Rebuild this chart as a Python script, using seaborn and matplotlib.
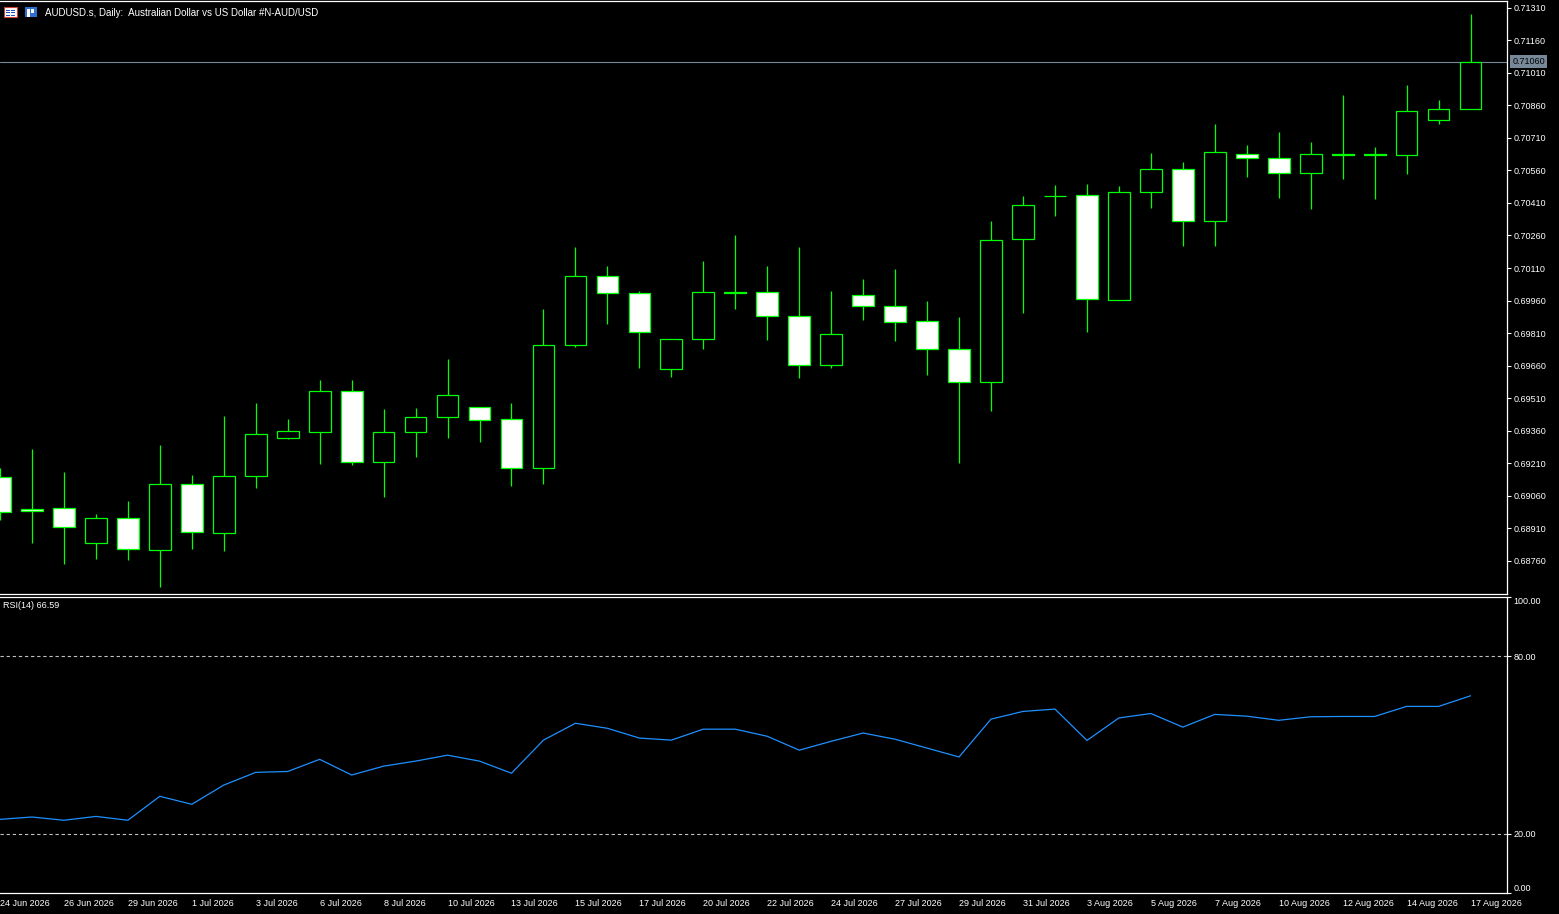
import numpy as np
import pandas as pd
import matplotlib
matplotlib.use("Agg")
import matplotlib.pyplot as plt
import matplotlib.transforms as mtransforms
from matplotlib.patches import Rectangle
import seaborn as sns

# daily AUDUSD candles, 24 Jun 2026 .. 17 Aug 2026
opens = [0.69148, 0.68998, 0.69002, 0.68841, 0.68956, 0.68809, 0.69113, 0.68887,
         0.69150, 0.69325, 0.69353, 0.69542, 0.69214, 0.69353, 0.69422, 0.69468,
         0.69413, 0.69187, 0.69754, 0.70072, 0.69993, 0.69643, 0.69781, 0.69997,
         0.69998, 0.69887, 0.69662, 0.69984, 0.69934, 0.69864, 0.69735, 0.69583,
         0.70242, 0.70442, 0.70445, 0.69961, 0.70459, 0.70565, 0.70325, 0.70634,
         0.70616, 0.70547, 0.70632, 0.70632, 0.70630, 0.70791, 0.70842]
highs = [0.69188, 0.69276, 0.69170, 0.68976, 0.69036, 0.69294, 0.69156, 0.69428,
         0.69488, 0.69414, 0.69594, 0.69594, 0.69460, 0.69465, 0.69691, 0.69468,
         0.69488, 0.69921, 0.70207, 0.70119, 0.70003, 0.69781, 0.70142, 0.70262,
         0.70119, 0.70207, 0.70004, 0.70059, 0.70105, 0.69958, 0.69884, 0.70327,
         0.70442, 0.70493, 0.70497, 0.70488, 0.70640, 0.70599, 0.70774, 0.70677,
         0.70737, 0.70691, 0.70908, 0.70668, 0.70954, 0.70885, 0.71281]
lows = [0.68948, 0.68844, 0.68747, 0.68770, 0.68765, 0.68641, 0.68816, 0.68807,
        0.69097, 0.69320, 0.69208, 0.69203, 0.69056, 0.69240, 0.69328, 0.69309,
        0.69106, 0.69116, 0.69747, 0.69853, 0.69650, 0.69609, 0.69738, 0.69922,
        0.69779, 0.69604, 0.69650, 0.69872, 0.69775, 0.69618, 0.69212, 0.69452,
        0.69904, 0.70351, 0.69816, 0.69961, 0.70388, 0.70213, 0.70213, 0.70531,
        0.70434, 0.70383, 0.70522, 0.70430, 0.70545, 0.70775, 0.70842]
closes = [0.68984, 0.68988, 0.68915, 0.68956, 0.68813, 0.69113, 0.68892, 0.69150,
          0.69343, 0.69357, 0.69542, 0.69214, 0.69353, 0.69422, 0.69523, 0.69408,
          0.69187, 0.69754, 0.70072, 0.69993, 0.69814, 0.69781, 0.69998, 0.69997,
          0.69887, 0.69662, 0.69804, 0.69934, 0.69860, 0.69735, 0.69583, 0.70238,
          0.70399, 0.70442, 0.69966, 0.70459, 0.70565, 0.70325, 0.70643, 0.70616,
          0.70547, 0.70634, 0.70632, 0.70632, 0.70832, 0.70842, 0.71060]

rsi = [24.8, 25.6, 24.5, 25.8, 24.5, 32.6, 29.9, 36.4, 40.7, 41.0, 45.1, 39.8,
       42.8, 44.5, 46.5, 44.5, 40.4, 51.6, 57.3, 55.6, 52.3, 51.6, 55.3, 55.3,
       52.9, 48.2, 51.2, 54.0, 51.9, 48.9, 45.9, 58.7, 61.3, 62.1, 51.5, 59.1,
       60.6, 56.0, 60.3, 59.7, 58.3, 59.5, 59.6, 59.6, 63.0, 63.0, 66.59]

date_labels = ["24 Jun 2026", "26 Jun 2026", "29 Jun 2026", "1 Jul 2026", "3 Jul 2026",
               "6 Jul 2026", "8 Jul 2026", "10 Jul 2026", "13 Jul 2026", "15 Jul 2026",
               "17 Jul 2026", "20 Jul 2026", "22 Jul 2026", "24 Jul 2026", "27 Jul 2026",
               "29 Jul 2026", "31 Jul 2026", "3 Aug 2026", "5 Aug 2026", "7 Aug 2026",
               "10 Aug 2026", "12 Aug 2026", "14 Aug 2026", "17 Aug 2026"]

price_ticks = [0.68760, 0.68910, 0.69060, 0.69210, 0.69360, 0.69510, 0.69660, 0.69810,
               0.69960, 0.70110, 0.70260, 0.70410, 0.70560, 0.70710, 0.70860, 0.71010,
               0.71160, 0.71310]
rsi_levels = [0, 20, 80, 100]
bid = 0.71060

GREEN = "#00FF00"
W, H = 1559, 914

df = pd.DataFrame({"open": opens, "high": highs, "low": lows, "close": closes, "rsi": rsi})
df["idx"] = np.arange(len(df))
df["bull"] = df["close"] > df["open"]
df["body_lo"] = df[["open", "close"]].min(axis=1)
df["body_h"] = (df["close"] - df["open"]).abs().clip(lower=0.00002)

sns.set_style("dark", rc={"axes.facecolor": "black", "figure.facecolor": "black",
                          "axes.edgecolor": "white", "text.color": "white",
                          "xtick.color": "white", "ytick.color": "white",
                          "axes.grid": False})
plt.rcParams["font.family"] = ["Liberation Sans", "DejaVu Sans"]
FS = 6.5

fig = plt.figure(figsize=(W / 100, H / 100), dpi=100)
ax1 = fig.add_axes([0, (H - 594) / H, 1507 / W, 593 / H])
ax2 = fig.add_axes([0, (H - 893) / H, 1507 / W, 296 / H], sharex=ax1)

# candles: wicks first, bodies on top (bull = black fill, bear = white fill)
ax1.vlines(df["idx"], df["low"], df["high"], color=GREEN, lw=0.9, zorder=1)
fills = np.where(df["bull"], "black", "white")
ax1.bar(df["idx"], df["body_h"], bottom=df["body_lo"], width=0.68, color=fills,
        edgecolor=GREEN, linewidth=0.9, zorder=2)
ax1.axhline(bid, color="#778899", lw=0.8, zorder=0)

ax1.set_xlim(0.04, 47.14)
ax1.set_ylim(0.68607, 0.71341)
ax1.yaxis.tick_right()
ax1.set_yticks(price_ticks)
ax1.set_yticklabels([f"{t:.5f}" for t in price_ticks])
ax1.tick_params(axis="y", direction="out", length=3, width=0.8, labelsize=FS, pad=1.5)
ax1.tick_params(axis="x", bottom=False, labelbottom=False)
trans = mtransforms.blended_transform_factory(ax1.transAxes, ax1.transData)
ax1.text(1.0035, bid, f"{bid:.5f}", transform=trans, ha="left", va="center",
         fontsize=FS, color="black", zorder=5,
         bbox=dict(facecolor="#778899", edgecolor="none", pad=1.4))

# RSI pane
sns.lineplot(data=df, x="idx", y="rsi", ax=ax2, color="#1E90FF", lw=0.9)
for lvl in [20, 80]:
    ax2.axhline(lvl, color="#C0C0C0", lw=0.8, linestyle=(0, (3, 2.5)))
ax2.set_ylim(-0.1, 99.9)
ax2.yaxis.tick_right()
ax2.set_yticks(rsi_levels)
ax2.set_yticklabels([f"{v:.2f}" for v in rsi_levels])
ax2.tick_params(axis="y", direction="out", length=3, width=0.8, labelsize=FS, pad=1.5)
ylabs = ax2.get_yticklabels()
ylabs[0].set_va("bottom")
ylabs[-1].set_va("top")
ax2.set_xticks(df["idx"][::2])
ax2.set_xticklabels(date_labels)
ax2.tick_params(axis="x", direction="out", length=3, width=0.8, labelsize=FS, pad=1)
for lab in ax2.get_xticklabels():
    lab.set_ha("left")
ax2.set_xlabel("")
ax2.set_ylabel("")
ax2.text(3 / 1507, 1 - 9 / 296, f"RSI(14) {rsi[-1]:.2f}", transform=ax2.transAxes,
         ha="left", va="center", fontsize=FS, color="white")

for ax in (ax1, ax2):
    ax.spines["left"].set_visible(False)
    for s in ("top", "right", "bottom"):
        ax.spines[s].set_color("white")
        ax.spines[s].set_linewidth(0.9)

# header icons + title
def px_rect(x, y, w, h, **kw):
    fig.patches.append(Rectangle((x / W, 1 - (y + h) / H), w / W, h / H,
                                 transform=fig.transFigure, **kw))

px_rect(4, 7, 13, 10, facecolor="white", edgecolor="#D04030", lw=0.8)
for yy in (9.5, 12, 14.5):
    px_rect(6, yy, 4, 1, facecolor="#2050C0", edgecolor="none")
    px_rect(11, yy, 4, 1, facecolor="#2050C0", edgecolor="none")
px_rect(25, 7, 12, 10, facecolor="#2F6FD0", edgecolor="none")
px_rect(27, 9, 3, 8, facecolor="white", edgecolor="none")
px_rect(31, 9, 3, 4, facecolor="white", edgecolor="none")
fig.text(45 / W, 1 - 12.5 / H, "AUDUSD.s, Daily:  Australian Dollar vs US Dollar #N-AUD/USD",
         ha="left", va="center", fontsize=7.0, color="white")

fig.savefig("out.png", dpi=100, facecolor="black")
